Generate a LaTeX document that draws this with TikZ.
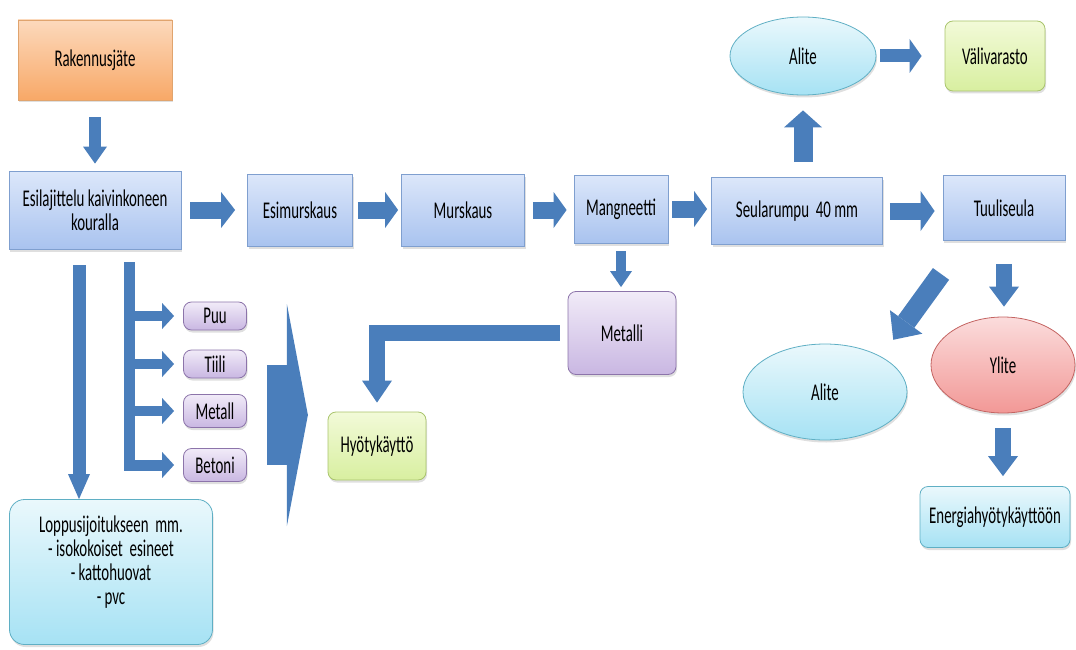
\documentclass[tikz,border=0pt]{standalone}
\usepackage{fontspec}
\setmainfont{Carlito}[FakeStretch=0.62]
\usetikzlibrary{positioning,shadows,arrows.meta,shapes.geometric}

\definecolor{arrowblue}{HTML}{4A7EBB}
\definecolor{blueline}{HTML}{7F9FCF}
\definecolor{bluetop}{HTML}{DCE7FA}
\definecolor{bluebot}{HTML}{A9C3EF}
\definecolor{orangeline}{HTML}{E0A46E}
\definecolor{orangetop}{HTML}{FCD9BC}
\definecolor{orangebot}{HTML}{F8A867}
\definecolor{greenline}{HTML}{A9C46C}
\definecolor{greentop}{HTML}{F2FAD8}
\definecolor{greenbot}{HTML}{D8EFA0}
\definecolor{purpleline}{HTML}{8C74AA}
\definecolor{purpletop}{HTML}{F1EBF8}
\definecolor{purplebot}{HTML}{C9B7E2}
\definecolor{cyanline}{HTML}{5FAFC4}
\definecolor{cyantop}{HTML}{EAF8FC}
\definecolor{cyanbot}{HTML}{A6E2F4}
\definecolor{redline}{HTML}{C46462}
\definecolor{redtop}{HTML}{FBDCDC}
\definecolor{redbot}{HTML}{F29896}

\tikzset{
  box/.style={draw=#1line, top color=#1top, bottom color=#1bot, line width=0.8pt,
    drop shadow={shadow xshift=1pt, shadow yshift=-2.5pt, opacity=0.25},
    align=center, inner sep=2pt, font=\fontsize{24}{24}\selectfont},
  stepbox/.style={box=blue},
  roundbox/.style={box=#1, rounded corners=8pt},
  blob/.style={box=#1, ellipse},
  blockarrow/.style n args={3}{draw=arrowblue, line width=#1pt,
    -{Triangle[width=#2pt, length=#3pt, line width=0pt]}},
}

\begin{document}
\begin{tikzpicture}[x=1pt, y=-1pt]
    \useasboundingbox (0,0) rectangle (1076,650);

    % Lajittelu vasemmalla
    \node[box=orange, minimum width=154pt, minimum height=80pt] (rakennus) at (95,60) {Rakennusjäte};
    \node[stepbox, minimum width=172pt, minimum height=78pt] (esil) at (95,210) {Esilajittelu kaivinkoneen\\kouralla};
    \node[roundbox=purple, minimum width=63pt, minimum height=28pt] (puu) at (215,316) {Puu};
    \node[roundbox=purple, minimum width=63pt, minimum height=28pt] (tiili) at (215,364) {Tiili};
    \node[roundbox=purple, minimum width=63pt, minimum height=33pt] (metall) at (215,411) {Metall};
    \node[roundbox=purple, minimum width=63pt, minimum height=33pt] (betoni) at (215,465) {Betoni};
    \node[roundbox=cyan, rounded corners=15pt, minimum width=203pt, minimum height=145pt] (lopp) at (111,572)
      {Loppusijoitukseen\ \ mm.\\- isokokoiset\ \ esineet\\- kattohuovat\\- pvc\\ \mbox{}};

    % Murskauslinja
    \node[stepbox, minimum width=105pt, minimum height=72pt] (esim) at (300,210) {Esimurskaus};
    \node[stepbox, minimum width=123pt, minimum height=72pt] (mursk) at (463,210) {Murskaus};
    \node[stepbox, minimum width=94pt, minimum height=68pt] (magn) at (621,209) {Mangneetti};
    \node[stepbox, minimum width=171pt, minimum height=67pt] (seula) at (797,211) {Seularumpu\ \ 40 mm};
    \node[stepbox, minimum width=122pt, minimum height=65pt] (tuuli) at (1004,208) {Tuuliseula};
    \node[roundbox=purple, minimum width=108pt, minimum height=83pt] (metalli) at (622,333) {Metalli};
    \node[roundbox=green, minimum width=98pt, minimum height=68pt] (hyoty) at (377,446) {Hyötykäyttö};

    % Seulonnan tuotteet
    \node[blob=cyan, minimum width=146pt, minimum height=78pt] (aliteup) at (803,56) {Alite};
    \node[roundbox=green, minimum width=100pt, minimum height=70pt] (vali) at (995,56) {Välivarasto};
    \node[blob=cyan, minimum width=164pt, minimum height=96pt] (alitelow) at (825,392) {Alite};
    \node[blob=red, minimum width=144pt, minimum height=96pt] (ylite) at (1003,365) {Ylite};
    \node[roundbox=cyan, minimum width=150pt, minimum height=61pt] (energia) at (995,517) {Energiahyötykäyttöön};

    % Nuolet
    \draw[blockarrow={12}{24}{17}] ([yshift=-17]rakennus.south) -- ([yshift=7]esil.north);
    \draw[blockarrow={17}{36}{14}] ([xshift=9]esil.east) -- ([xshift=-12]esim.west);
    \draw[blockarrow={17}{36}{13}] ([xshift=5]esim.east) -- ([xshift=-3]mursk.west);
    \draw[blockarrow={17}{36}{13}] ([xshift=8]mursk.east) -- ([xshift=-7]mursk.east -| magn.west);
    \draw[blockarrow={17}{36}{13}] ([xshift=4]magn.east) -- ([xshift=-4]magn.east -| seula.west);
    \draw[blockarrow={17}{40}{14}] ([xshift=7]seula.east) -- ([xshift=-8]seula.east -| tuuli.west);
    \draw[blockarrow={19}{38}{17}] ([yshift=15]seula.north -| aliteup.south) -- ([yshift=-15]aliteup.south);
    \draw[blockarrow={13}{34}{12}] ([xshift=4]aliteup.east) -- ([xshift=-23]vali.west);
    \draw[blockarrow={10}{22}{16}] ([yshift=-8]magn.south) -- ([yshift=4]magn.south |- metalli.north);
    \draw[blockarrow={16}{30}{22}] ([xshift=-8]metalli.west) -| ([yshift=9]hyoty.north);
    \draw[blockarrow={20}{40}{22}] ([xshift=-63,yshift=-33]tuuli.south) -- ([xshift=10,yshift=18]alitelow.north east);
    \draw[blockarrow={16}{30}{20}] ([yshift=-23]tuuli.south) -- ([yshift=10]tuuli.south |- ylite.north);
    \draw[blockarrow={16}{30}{20}] ([yshift=-15]ylite.south) -- ([yshift=10]energia.north -| ylite.south);

    % Esilajittelun haarat
    \coordinate (leftdrop) at (79,265);
    \coordinate (sortbar) at (129,262);
    \draw[blockarrow={13}{22}{25}] (leftdrop) -- (leftdrop |- lopp.north);
    \draw[blockarrow={11}{26}{12}] (sortbar) |- ([xshift=-9]betoni.west);
    \foreach \item in {puu, tiili, metall}
      \draw[blockarrow={10}{26}{12}] (sortbar |- \item.west) -- ([xshift=-9]\item.west);
    \draw[blockarrow={100}{222}{21}] ([xshift=20,yshift=-4]metall.east) -- ([xshift=61,yshift=-4]metall.east);
\end{tikzpicture}
\end{document}
